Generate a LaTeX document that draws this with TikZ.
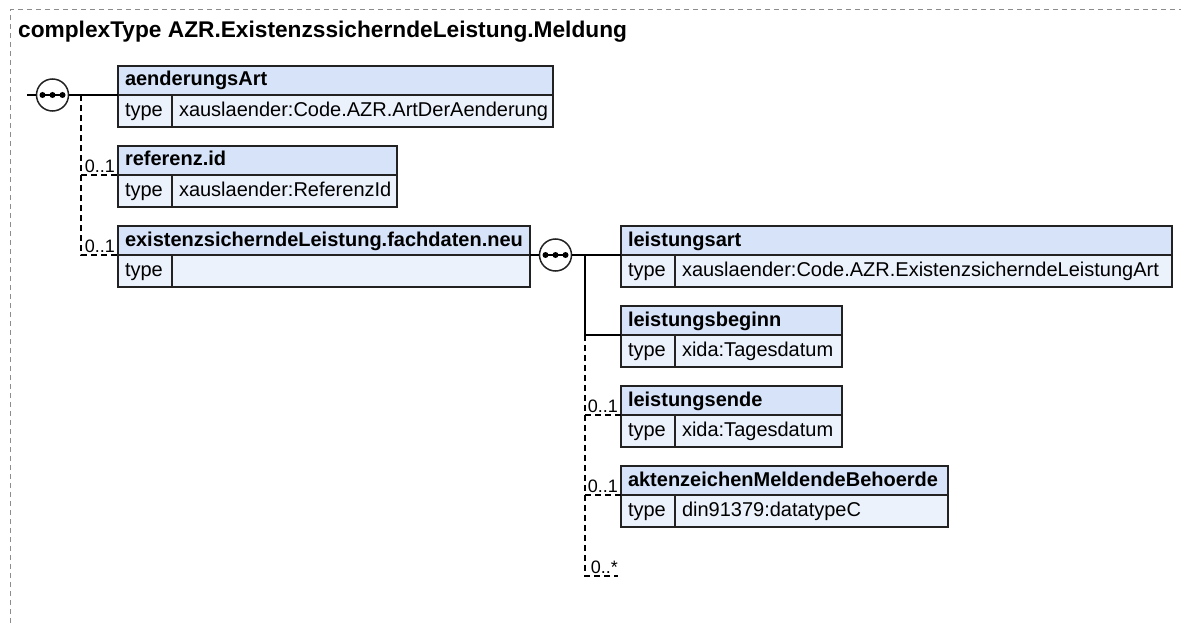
\documentclass[tikz,border=0pt]{standalone}
\usepackage{fontspec}
\setmainfont{Liberation Sans}
\usetikzlibrary{calc}
\definecolor{hdrfill}{RGB}{214,227,248}
\definecolor{rowfill}{RGB}{236,242,252}
\definecolor{boxline}{RGB}{34,34,34}
\definecolor{framegray}{RGB}{140,140,140}
\tikzset{
  boxtxt/.style={font=\fontsize{20pt}{24pt}\selectfont, text height=15pt, text depth=4pt,
    inner xsep=7pt, inner ysep=0pt, draw=boxline, line width=1.5pt, anchor=north west, align=left, outer sep=0pt},
  hdr/.style={boxtxt, fill=hdrfill, minimum height=29pt, font=\fontsize{20pt}{24pt}\selectfont\bfseries},
  typelbl/.style={boxtxt, fill=rowfill, minimum height=32pt, text width=40pt},
  typeval/.style={boxtxt, fill=rowfill, minimum height=32pt},
  seqsym/.style={circle, draw=boxline, line width=1.5pt, fill=white, minimum size=32pt, inner sep=0pt,
    path picture={
      \draw[black, line width=1.5pt] ([xshift=-12pt]path picture bounding box.center) -- ([xshift=12pt]path picture bounding box.center);
      \foreach \d in {-10,0,10} \fill[black] ([xshift=\d pt]path picture bounding box.center) circle (3pt);
    }},
  conn/.style={draw=black, line width=1.3pt},
  optconn/.style={draw=black, line width=1.3pt, dash pattern=on 6pt off 4pt},
  mult/.style={font=\fontsize{18pt}{21pt}\selectfont, inner sep=0pt, anchor=base east},
  frameline/.style={draw=framegray, line width=1pt, dash pattern=on 5pt off 4pt}
}
\begin{document}
\begin{tikzpicture}[x=1pt,y=-1pt]
\useasboundingbox (0,0) rectangle (1181,623);
\draw[frameline] (10,623) -- (10,10) -- (1181,10);
\node[font=\fontsize{22.7pt}{27pt}\selectfont\bfseries, anchor=base west, inner sep=0pt] (title) at (18,38) {complexType AZR.ExistenzssicherndeLeistung.Meldung};

% left boxes
\node[hdr, text width=421pt] (a) at (118,66) {aenderungsArt};
\node[typelbl] (a-t) at (a.south west) {type};
\node[typeval, text width=367pt] (a-v) at (a-t.north east) {xauslaender:Code.AZR.ArtDerAenderung};

\node[hdr, text width=265pt] (r) at (118,146) {referenz.id};
\node[typelbl] (r-t) at (r.south west) {type};
\node[typeval, text width=211pt] (r-v) at (r-t.north east) {xauslaender:ReferenzId};

\node[hdr, text width=398pt] (e) at (118,226) {existenzsicherndeLeistung.fachdaten.neu};
\node[typelbl] (e-t) at (e.south west) {type};
\node[typeval, text width=344pt] (e-v) at (e-t.north east) {};

% right boxes
\node[hdr, text width=537pt] (la) at (621,226) {leistungsart};
\node[typelbl] (la-t) at (la.south west) {type};
\node[typeval, text width=483pt] (la-v) at (la-t.north east) {xauslaender:Code.AZR.ExistenzsicherndeLeistungArt};

\node[hdr, text width=207pt] (lb) at (621,306) {leistungsbeginn};
\node[typelbl] (lb-t) at (lb.south west) {type};
\node[typeval, text width=153pt] (lb-v) at (lb-t.north east) {xida:Tagesdatum};

\node[hdr, text width=207pt] (le) at (621,386) {leistungsende};
\node[typelbl] (le-t) at (le.south west) {type};
\node[typeval, text width=153pt] (le-v) at (le-t.north east) {xida:Tagesdatum};

\node[hdr, text width=313pt] (ak) at (621,466) {aktenzeichenMeldendeBehoerde};
\node[typelbl] (ak-t) at (ak.south west) {type};
\node[typeval, text width=259pt] (ak-v) at (ak-t.north east) {din91379:datatypeC};

% sequence symbols
\node[seqsym] (s1) at ($(a.south west)+(-65.5,0)$) {};
\node[seqsym] (s2) at ($(e.south east)+(25.5,0)$) {};
\coordinate (stub) at ($(s1.center)+(-25.5,0)$);
\coordinate (j1) at ($(a.south west)+(-37,0)$);
\coordinate (j2) at ($(s2.center)+(29.5,0)$);
\coordinate (many) at ($(ak.south west)+(-3,81)$);

% left connectors
\draw[conn] (stub) -- (s1.west);
\draw[conn] (s1.east) -- (a.south west);
\draw[optconn] (j1) -- (j1 |- e.south west) -- (e.south west);
\draw[optconn] (j1 |- r.south west) -- (r.south west);
\node[mult] (m-r) at ($(r.south west)+(-3,-3)$) {0..1};
\node[mult] (m-e) at ($(e.south west)+(-3,-3)$) {0..1};

% right connectors
\draw[conn] (e.south east) -- (s2.west);
\draw[conn] (s2.east) -- (la.south west);
\draw[conn] (j2) -- (j2 |- lb.south west) -- (lb.south west);
\draw[optconn] (j2 |- lb.south west) -- (j2 |- many) -- (many);
\draw[optconn] (j2 |- le.south west) -- (le.south west);
\draw[optconn] (j2 |- ak.south west) -- (ak.south west);
\node[mult] (m-le) at ($(le.south west)+(-3,-3)$) {0..1};
\node[mult] (m-ak) at ($(ak.south west)+(-3,-3)$) {0..1};
\node[mult] (m-many) at ($(many)+(0,-3)$) {0..*};
\end{tikzpicture}
\end{document}
